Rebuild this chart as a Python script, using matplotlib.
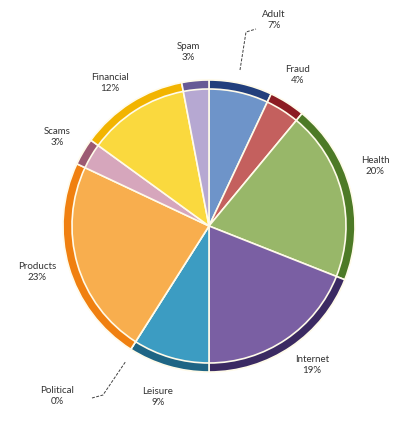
import matplotlib.pyplot as plt

labels = ['Adult', 'Fraud', 'Health', 'Internet', 'Leisure', 'Political',
          'Products', 'Scams', 'Financial', 'Spam']
values = [7, 4, 20, 19, 9, 0, 23, 3, 12, 3]
rim_colors = ['#223f7c', '#8c1c22', '#4d7a26', '#3b2a62', '#1f6584', '#f08010',
              '#f08010', '#9c5a72', '#f2b400', '#675a95']
fill_colors = ['#6e94c9', '#c4605e', '#98b769', '#7a5fa3', '#3c9cc2', '#f8ae4e',
               '#f8ae4e', '#d6a6bc', '#fad93e', '#b6a8d2']

# label positions in pixels (x, y from top)
label_pos = {
    'Adult': (274, 20), 'Spam': (188, 52), 'Fraud': (298, 75),
    'Health': (375, 166), 'Financial': (110, 83), 'Scams': (57, 137),
    'Products': (37, 272), 'Internet': (312, 365), 'Leisure': (158, 397),
    'Political': (57, 396),
}

W, H = 393, 421
fig = plt.figure(figsize=(W / 100, H / 100), dpi=100)
ax = fig.add_axes([0, 0, 1, 1])

cx, cy, r = 209, H - 226, 146

# outer darker rim
ax.pie(values, colors=rim_colors, startangle=90, counterclock=False,
       center=(cx, cy), radius=r, frame=True,
       wedgeprops=dict(edgecolor='#fffbea', linewidth=1.2))
# lighter inner part
ax.pie(values, colors=fill_colors, startangle=90, counterclock=False,
       center=(cx, cy), radius=r - 9, frame=True,
       wedgeprops=dict(edgecolor='#fffbea', linewidth=1.2))
ax.set_xlim(0, W)
ax.set_ylim(0, H)
ax.axis('off')

for name, v in zip(labels, values):
    x, y = label_pos[name]
    ax.text(x, H - y, name + '\n' + str(v) + '%', ha='center', va='center',
            fontsize=7, color='#333333', family='Lato', linespacing=1.2)

# leader lines
ax.plot([240, 246, 256], [H - 70, H - 32, H - 29], color='#404040', lw=0.7,
        dashes=(3, 1.5))
ax.plot([92, 103, 126], [H - 398, H - 395, H - 361], color='#404040', lw=0.7,
        dashes=(3, 1.5))

fig.savefig('out.png', dpi=100)
